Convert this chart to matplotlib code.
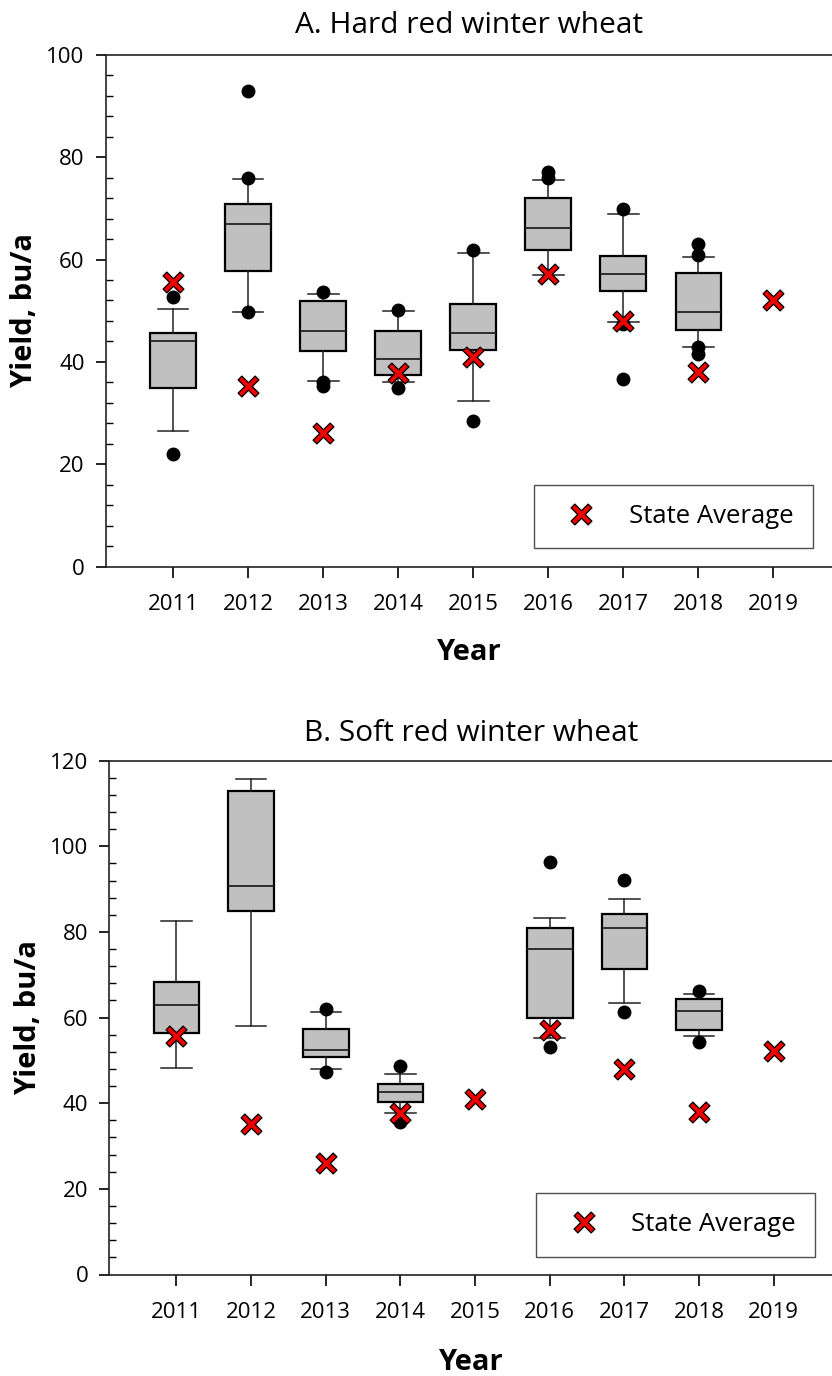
import matplotlib
matplotlib.use("Agg")
import numpy as np
import matplotlib.pyplot as plt
from matplotlib.ticker import MultipleLocator, AutoMinorLocator
from matplotlib.lines import Line2D
from matplotlib.path import Path

plt.rcParams['font.family'] = ['Open Sans', 'DejaVu Sans']

years = [2011, 2012, 2013, 2014, 2015, 2016, 2017, 2018, 2019]
state_avg = [55.7, 35.2, 26.1, 37.8, 41.0, 57.1, 48.0, 38.0, 52.1]

# A. Hard red winter wheat (box stats per year; 2019 has no box)
hrw_years = [2011, 2012, 2013, 2014, 2015, 2016, 2017, 2018]
hrw_lo = [26.6, 49.8, 36.3, 36.1, 32.4, 57.0, 47.8, 43.0]
hrw_q1 = [34.9, 57.8, 42.1, 37.4, 42.3, 61.9, 53.8, 46.3]
hrw_med = [44.1, 66.9, 46.0, 40.6, 45.6, 66.1, 57.2, 49.7]
hrw_q3 = [45.7, 70.8, 51.8, 46.1, 51.3, 72.1, 60.7, 57.4]
hrw_hi = [50.4, 75.7, 53.3, 49.9, 61.2, 75.5, 68.9, 60.5]
hrw_fliers = [[52.7, 22.1], [93.0, 75.9, 49.8], [53.6, 36.1, 35.2], [50.1, 35.0],
              [61.9, 28.5], [77.1, 76.0], [69.8, 47.4, 36.6], [63.0, 60.8, 43.0, 41.5]]

# B. Soft red winter wheat (no box for 2015 and 2019)
srw_years = [2011, 2012, 2013, 2014, 2016, 2017, 2018]
srw_lo = [48.2, 58.1, 48.1, 37.7, 55.3, 63.5, 55.7]
srw_q1 = [56.5, 84.8, 50.8, 40.3, 59.9, 71.4, 57.1]
srw_med = [63.0, 90.8, 52.4, 42.7, 76.1, 80.9, 61.6]
srw_q3 = [68.4, 112.9, 57.4, 44.6, 81.0, 84.2, 64.3]
srw_hi = [82.6, 115.7, 61.2, 46.8, 83.2, 87.6, 65.6]
srw_fliers = [[], [], [61.9, 47.3], [48.8, 35.6], [96.4, 53.1], [92.2, 61.2], [66.3, 54.4]]

titles = ["A. Hard red winter wheat", "B. Soft red winter wheat"]

W, H = 832, 1376
fig = plt.figure(figsize=(W / 100, H / 100), dpi=100)

def px_axes(left, top, right, bottom):
    return fig.add_axes([left / W, 1 - bottom / H, (right - left) / W, (bottom - top) / H])

ax1 = px_axes(105.5, 54.7, 832, 566.7)
ax2 = px_axes(109.3, 760.7, 832, 1274.5)

# thin "x" cross marker with outline
_w, _L = 0.11, 0.5
_plus = np.array([(_w, _w), (_w, _L), (-_w, _L), (-_w, _w), (-_L, _w), (-_L, -_w),
                  (-_w, -_w), (-_w, -_L), (_w, -_L), (_w, -_w), (_L, -_w), (_L, _w), (_w, _w)])
_c, _s = np.cos(np.pi / 4), np.sin(np.pi / 4)
_rot = _plus @ np.array([[_c, _s], [-_s, _c]])
cross_marker = Path(_rot, closed=True)

def make_stats(lo, q1, med, q3, hi, fl):
    return [dict(whislo=a, q1=b, med=c, q3=d, whishi=e, fliers=f)
            for a, b, c, d, e, f in zip(lo, q1, med, q3, hi, fl)]

panels = [
    (ax1, hrw_years, make_stats(hrw_lo, hrw_q1, hrw_med, hrw_q3, hrw_hi, hrw_fliers), 100, 15.4, 16),
    (ax2, srw_years, make_stats(srw_lo, srw_q1, srw_med, srw_q3, srw_hi, srw_fliers), 120, 14.4, 17.5),
]

legend_pos = [((812.7 - 105.5) / (832 - 105.5), (566.7 - 548.3) / 512.0),
              ((815.3 - 109.3) / (832 - 109.3), (1274.5 - 1256.7) / 513.8)]

for i, (ax, pos, stats, ymax, tpad, xlpad) in enumerate(panels):
    ax.bxp(stats, positions=pos, widths=0.61, capwidths=0.41, patch_artist=True,
           showfliers=True,
           boxprops=dict(facecolor='#c0c0c0', edgecolor='black', linewidth=1.6),
           medianprops=dict(color='#222222', linewidth=1.3),
           whiskerprops=dict(color='#222222', linewidth=1.1),
           capprops=dict(color='#222222', linewidth=1.1),
           flierprops=dict(marker='o', markerfacecolor='black', markeredgecolor='black',
                           markersize=9, linestyle='none'),
           manage_ticks=False)
    ax.plot(years, state_avg, linestyle='none', marker=cross_marker, markersize=15,
            markerfacecolor='#ee0000', markeredgecolor='black', markeredgewidth=0.9, zorder=5)

    ax.set_xlim(2010.1, 2019.78)
    ax.set_ylim(0, ymax)
    ax.set_xticks(years)
    ax.set_xticklabels([str(y) for y in years])
    ax.yaxis.set_major_locator(MultipleLocator(20))
    ax.yaxis.set_minor_locator(AutoMinorLocator(5))
    ax.tick_params(axis='y', which='major', direction='out', length=7, width=1.2,
                   labelsize=16, pad=8)
    ax.tick_params(axis='y', which='minor', direction='in', length=5, width=1.0)
    ax.tick_params(axis='x', which='major', direction='out', length=8, width=1.2,
                   labelsize=16, pad=12)
    ax.spines['right'].set_visible(False)
    for s in ['left', 'bottom', 'top']:
        ax.spines[s].set_linewidth(1.2)
        ax.spines[s].set_color('#222222')

    ax.set_ylabel("Yield, bu/a", fontsize=21, fontweight='bold', labelpad=5.5)
    ax.set_xlabel("Year", fontsize=21, fontweight='bold', labelpad=xlpad)
    ax.set_title(titles[i], fontsize=21.5, pad=tpad)

    handle = Line2D([], [], linestyle='none', marker=cross_marker, markersize=15,
                    markerfacecolor='#ee0000', markeredgecolor='black', markeredgewidth=0.9)
    leg = ax.legend([handle], ["State Average"], loc='lower right',
                    bbox_to_anchor=legend_pos[i], bbox_transform=ax.transAxes,
                    fontsize=18.5, frameon=True, fancybox=False, borderpad=0.75,
                    handletextpad=0.75, handlelength=2.2, borderaxespad=0)
    leg.get_frame().set_edgecolor('#222222')
    leg.get_frame().set_linewidth(1.0)

fig.savefig("out.png", dpi=100)
